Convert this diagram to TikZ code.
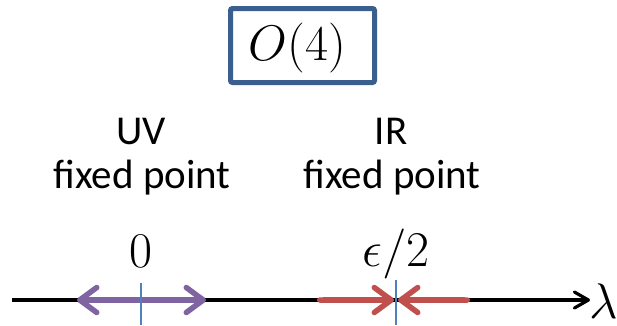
\documentclass[tikz,border=0pt]{standalone}
\usepackage{graphicx}
\usepackage[no-math]{fontspec}
\setmainfont{Carlito}
\usetikzlibrary{arrows.meta}
\definecolor{boxblue}{HTML}{3A5F8F}
\definecolor{uvpurple}{HTML}{8064A2}
\definecolor{irred}{HTML}{C0504D}
\definecolor{tickblue}{HTML}{4F81BD}
\newcommand{\largemath}[1]{\scalebox{2.01}{\Huge$#1$}}
\tikzset{
  lbl/.style={anchor=base,inner sep=0pt,font=\fontsize{41}{46}\selectfont},
  mlbl/.style={anchor=base,inner sep=0pt},
  barb/.tip={Straight Barb[length=17pt,width=25pt,line width=5.5pt,round]},
  flow/.style={line width=5.5pt,{Round Cap[]}-barb},
  tick/.style={draw=tickblue,line width=1.5pt},
}
\begin{document}
\begin{tikzpicture}[x=1pt,y=-1pt]
\useasboundingbox (0,0) rectangle (617,325);
\node[draw=boxblue,line width=5pt,rounded corners=2pt,minimum width=144pt,minimum height=74pt,inner sep=0pt] (box) at (302.5,45.5) {};
\node[mlbl] (o4) at (297.5,60) {\largemath{O(4)}};
\node[lbl] (uv) at (141,144) {UV};
\node[lbl] (uvfp) at (142,188) {fixed point};
\node[lbl] (ir) at (391,144) {IR};
\node[lbl] (irfp) at (392,188) {fixed point};
\node[mlbl] (zero) at (141,267) {\largemath{0}};
\node[mlbl] (eps) at (396,266) {\largemath{\epsilon/2}};
\coordinate (a0) at (12,300);
\coordinate (a1) at (590,300);
\node[anchor=base west,inner sep=0pt] (lam) at (589,318) {\largemath{\lambda}};
\draw[line width=3.2pt,-{Straight Barb[length=14pt,width=16pt,line width=3.2pt,round]}] (a0) -- (a1);
\coordinate (p0) at (141,300);
\coordinate (pl) at (77,300);
\coordinate (pr) at (206,300);
\draw[line width=5.5pt,uvpurple,-barb] (p0) -- (pl);
\draw[line width=5.5pt,uvpurple,-barb] (p0) -- (pr);
\coordinate (rl) at (317,300);
\coordinate (rr) at (470,300);
\coordinate (rc1) at (394,300);
\coordinate (rc2) at (398,300);
\draw[flow,irred] (rl) -- (rc1);
\draw[flow,irred] (rr) -- (rc2);
\coordinate (t0a) at (141,283);
\coordinate (t0b) at (141,325);
\coordinate (t1a) at (396,280);
\coordinate (t1b) at (396,325);
\draw[tick] (t0a) -- (t0b);
\draw[tick] (t1a) -- (t1b);
\end{tikzpicture}
\end{document}
